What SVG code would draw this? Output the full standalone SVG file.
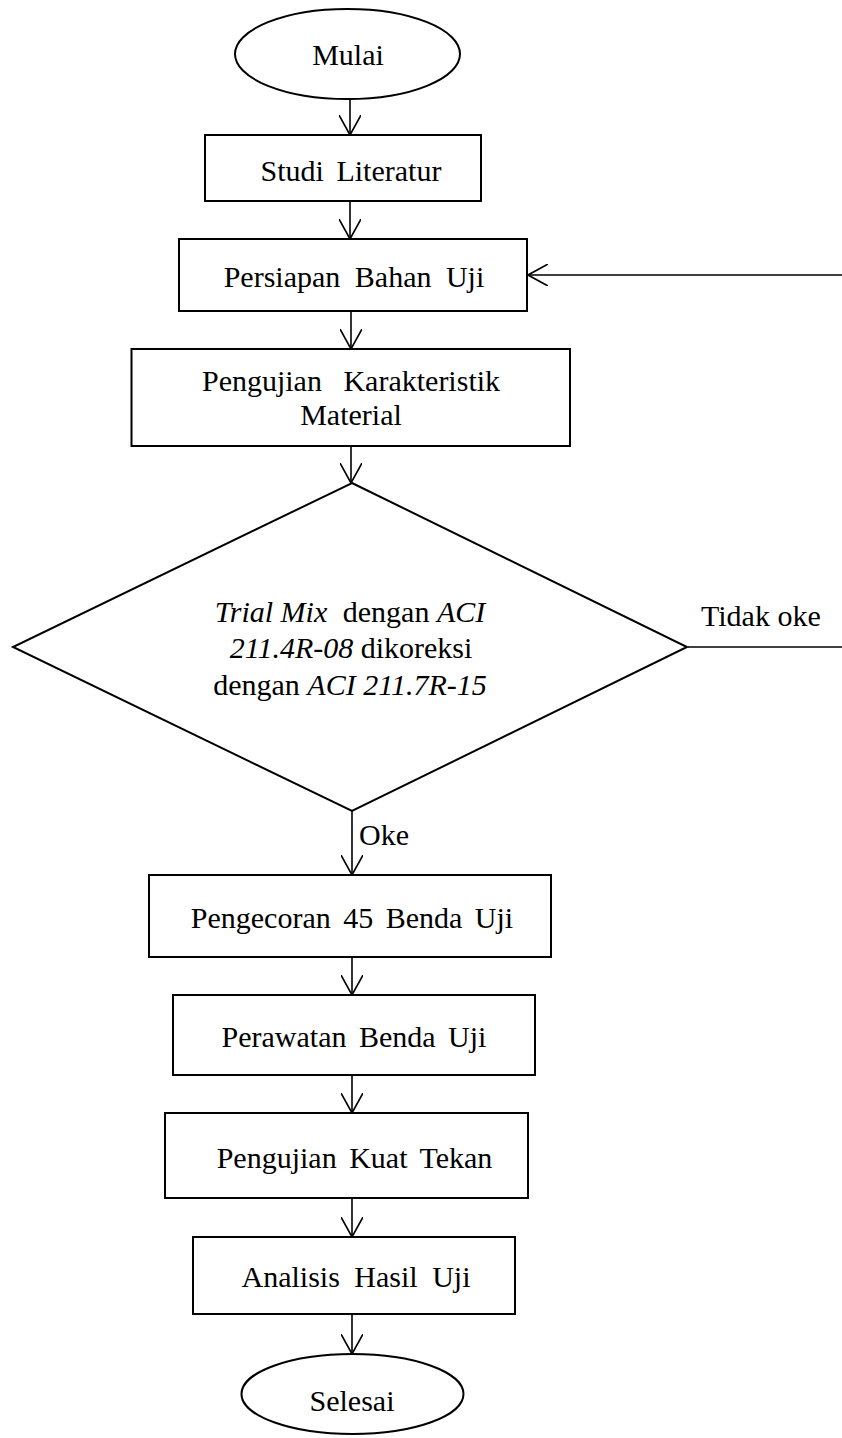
<svg xmlns="http://www.w3.org/2000/svg" width="842" height="1438" viewBox="0 0 842 1438">
<style>
.shape{fill:#fff;stroke:#000;stroke-width:2}
.line{fill:none;stroke:#000;stroke-width:1.6}
text{font-family:"Liberation Serif","Times New Roman",serif;font-size:30px;fill:#000;text-anchor:middle}
.it{font-style:italic}
</style>
<defs>
<marker id="arr" viewBox="0 0 20 22" refX="20" refY="11" markerWidth="20" markerHeight="22" markerUnits="userSpaceOnUse" orient="auto">
<path d="M0,0 L20,11 L0,22" fill="none" stroke="#000" stroke-width="1.6"/>
</marker>
</defs>
<rect width="842" height="1438" fill="#fff"/>
<g id="connectors">
<line class="line" x1="350" y1="98" x2="350" y2="135" marker-end="url(#arr)"/>
<line class="line" x1="350" y1="201" x2="350" y2="239" marker-end="url(#arr)"/>
<line class="line" x1="351" y1="311" x2="351" y2="349" marker-end="url(#arr)"/>
<line class="line" x1="351" y1="446" x2="351" y2="483" marker-end="url(#arr)"/>
<line class="line" x1="352" y1="811" x2="352" y2="875" marker-end="url(#arr)"/>
<line class="line" x1="352" y1="957" x2="352" y2="995" marker-end="url(#arr)"/>
<line class="line" x1="352" y1="1075" x2="352" y2="1113" marker-end="url(#arr)"/>
<line class="line" x1="352" y1="1198" x2="352" y2="1237" marker-end="url(#arr)"/>
<line class="line" x1="352" y1="1314" x2="352" y2="1354" marker-end="url(#arr)"/>
<line class="line" x1="842" y1="275" x2="528" y2="275" marker-end="url(#arr)"/>
<line class="line" x1="688" y1="647" x2="842" y2="647"/>
<text x="359" y="845" style="text-anchor:start">Oke</text>
<text x="701" y="626" style="text-anchor:start">Tidak oke</text>
</g>
<g id="mulai">
<ellipse class="shape" cx="347.5" cy="54" rx="112.5" ry="45"/>
<text x="348" y="65">Mulai</text>
</g>
<g id="studi">
<rect class="shape" x="205" y="135" width="276" height="66"/>
<text x="351" y="181" word-spacing="5">Studi Literatur</text>
</g>
<g id="persiapan">
<rect class="shape" x="179" y="239" width="348" height="72"/>
<text x="354" y="287" word-spacing="7">Persiapan Bahan Uji</text>
</g>
<g id="karakteristik">
<rect class="shape" x="131.5" y="349" width="438.5" height="97"/>
<text x="351" y="391" word-spacing="14">Pengujian Karakteristik</text>
<text x="351" y="425">Material</text>
</g>
<g id="trialmix">
<polygon class="shape" points="352,483 687,647 352,811 13,647"/>
<text x="350" y="622"><tspan class="it">Trial Mix</tspan><tspan dx="8"> dengan </tspan><tspan class="it">ACI</tspan></text>
<text x="351" y="658"><tspan class="it">211.4R-08</tspan> dikoreksi</text>
<text x="350" y="695">dengan <tspan class="it">ACI 211.7R-15</tspan></text>
</g>
<g id="pengecoran">
<rect class="shape" x="149" y="875" width="402" height="82"/>
<text x="352" y="928" word-spacing="5">Pengecoran 45 Benda Uji</text>
</g>
<g id="perawatan">
<rect class="shape" x="173" y="995" width="362" height="80"/>
<text x="354" y="1047" word-spacing="5">Perawatan Benda Uji</text>
</g>
<g id="kuattekan">
<rect class="shape" x="165" y="1113" width="363" height="85"/>
<text x="354.5" y="1168" word-spacing="5">Pengujian Kuat Tekan</text>
</g>
<g id="analisis">
<rect class="shape" x="193" y="1237" width="322" height="77"/>
<text x="356" y="1287" word-spacing="7">Analisis Hasil Uji</text>
</g>
<g id="selesai">
<ellipse class="shape" cx="352.5" cy="1394" rx="111" ry="40"/>
<text x="352" y="1411">Selesai</text>
</g>
</svg>
